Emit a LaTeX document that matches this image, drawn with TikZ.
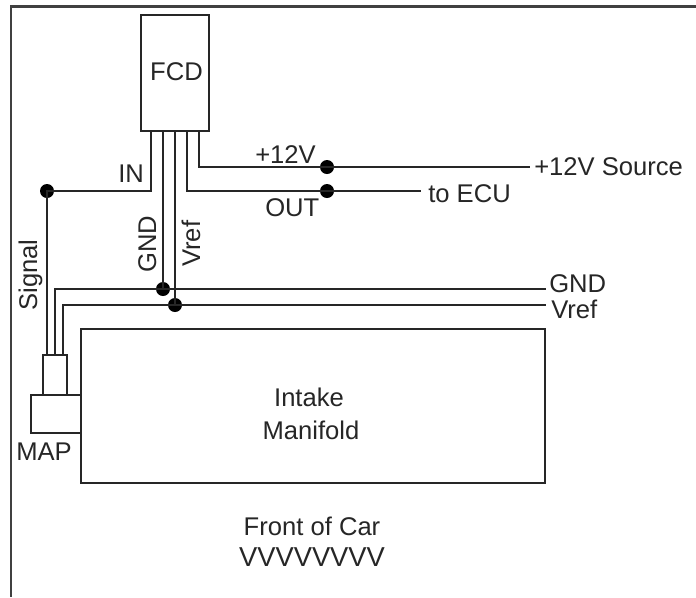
\documentclass[tikz,border=0pt]{standalone}
\usepackage{fontspec}
\setmainfont{Liberation Sans}
\begin{document}
\begin{tikzpicture}[x=0.75pt,y=-0.75pt,
  wire/.style={draw=black!85,line width=1.1pt},
  boxs/.style={draw=black!85,line width=1.1pt,fill=white,inner sep=0pt,minimum width=0pt},
  dot/.style={circle,fill=black,inner sep=0pt,minimum size=14*0.75pt},
  lab/.style={font=\fontsize{19.2pt}{21pt}\selectfont,text=black!85,inner sep=0pt}]
\useasboundingbox (0,0) rectangle (696,597);
\fill[white] (0,0) rectangle (696,597);
\draw[draw=black!75,line width=1.6pt] (696,6.5) -- (11,6.5) -- (11,597);
% boxes
\node[boxs,minimum width=68*0.75pt,minimum height=116*0.75pt] (fcd) at (175,73) {};
\node[lab] (fcdl) at (176.5,72) {FCD};
\node[boxs,minimum width=464*0.75pt,minimum height=154*0.75pt] (man) at (313,406) {};
\node[boxs,minimum width=24*0.75pt,minimum height=40*0.75pt] (con) at (55,375) {};
\node[boxs,minimum width=50*0.75pt,minimum height=38*0.75pt] (map) at (56,414) {};
% junctions and ends
\coordinate (p1) at (151,131); \coordinate (p2) at (163,131); \coordinate (p3) at (175,131);
\coordinate (p4) at (187,131); \coordinate (p5) at (199,131);
\node[dot] (j12) at (327,167) {};
\node[dot] (jout) at (327,191) {};
\node[dot] (jin) at (47,191) {};
\node[dot] (jg) at (163,289) {};
\node[dot] (jv) at (175,305) {};
\coordinate (e12) at (530,167); \coordinate (eout) at (421,191);
\coordinate (eg) at (546,289); \coordinate (ev) at (546,305);
\coordinate (c1) at (47,355); \coordinate (c2) at (55,355); \coordinate (c3) at (63,355);
% wires
\draw[wire] (p1) |- (jin.center) -- (c1);
\draw[wire] (p2) -- (jg.center);
\draw[wire] (p3) -- (jv.center);
\draw[wire] (p4) |- (jout.center) -- (eout);
\draw[wire] (p5) |- (j12.center) -- (e12);
\draw[wire] (c2) |- (jg.center) -- (eg);
\draw[wire] (c3) |- (jv.center) -- (ev);
% labels
\node[lab,anchor=base west] (l12) at (255,163) {+12V};
\node[lab,anchor=base west] (lout) at (265,216) {OUT};
\node[lab,anchor=base west] (lin) at (118,182) {IN};
\node[lab,anchor=base west] (lsrc) at (534,175) {+12V Source};
\node[lab,anchor=base west] (lecu) at (428,202) {to ECU};
\node[lab,anchor=base west] (lgnd) at (549,292) {GND};
\node[lab,anchor=base west] (lvref) at (551,318) {Vref};
\node[lab,anchor=base west,rotate=90] (vgnd) at (156,273) {GND};
\node[lab,anchor=base west,rotate=90] (vvref) at (200,267) {Vref};
\node[lab,anchor=base west,rotate=90] (vsig) at (37,311) {Signal};
\node[lab,anchor=base west] (lmap) at (16,460) {MAP};
\node[lab] (lint) at (309,397) {Intake};
\node[lab] (lman) at (311,430) {Manifold};
\node[lab] (lfr) at (312,526) {Front of Car};
\node[lab,font=\fontsize{20.5pt}{22pt}\selectfont] (lvv) at (312,557) {VVVVVVVV};
\end{tikzpicture}
\end{document}
